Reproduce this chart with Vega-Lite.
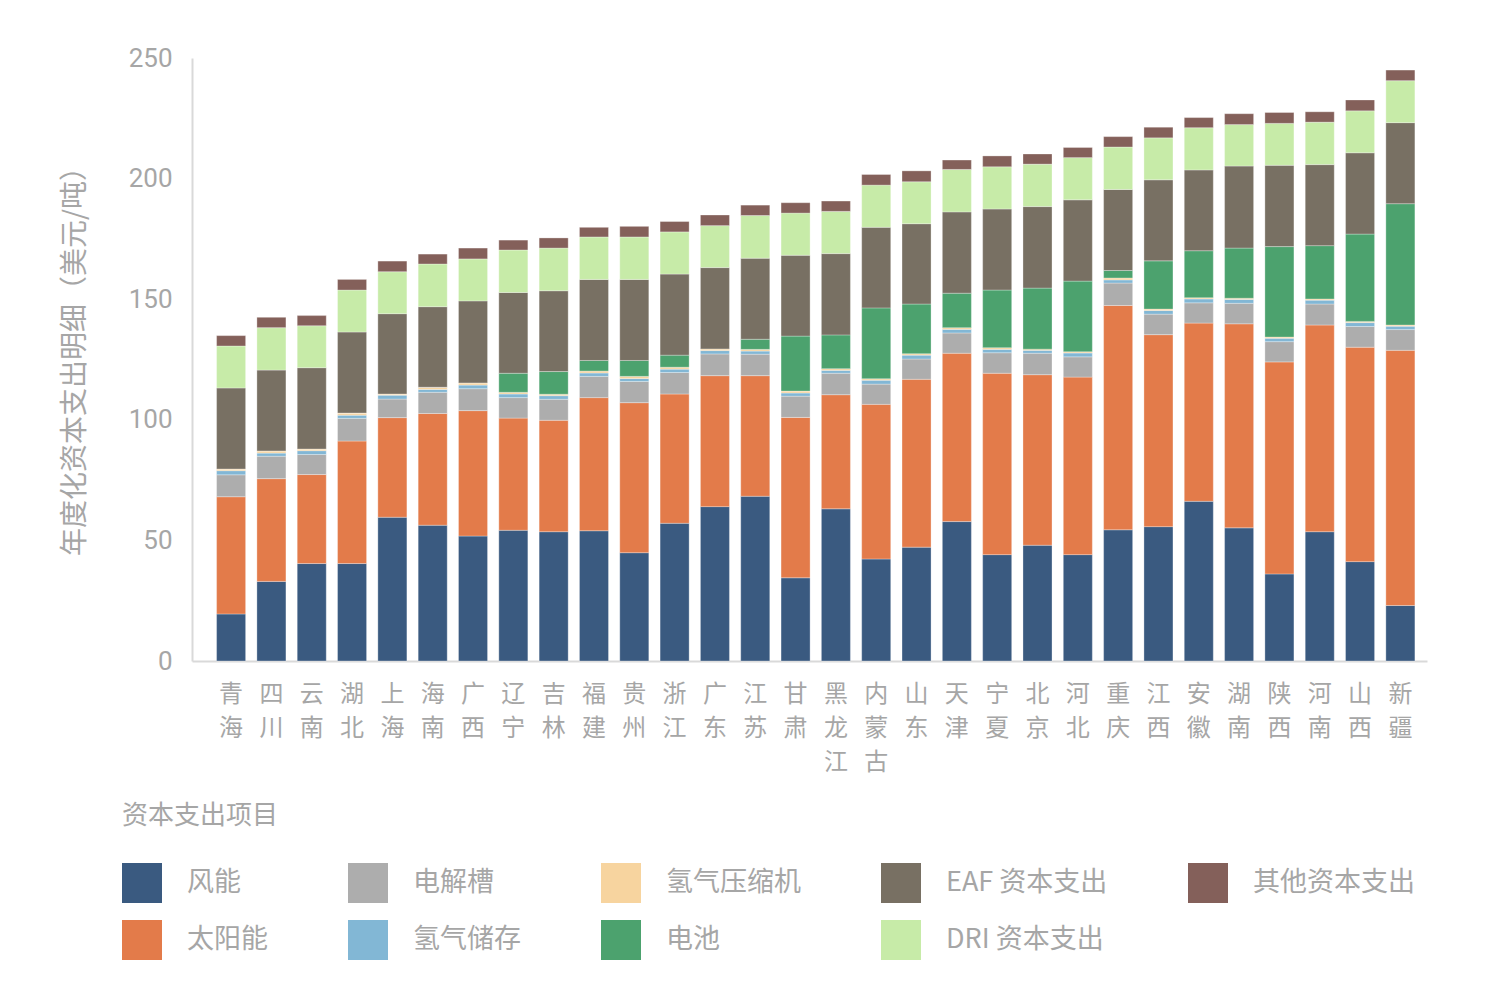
{
  "$schema": "https://vega.github.io/schema/vega-lite/v6.json",
  "autosize": {"type": "none"},
  "padding": {"left": 192, "top": 58, "right": 75, "bottom": 331},
  "width": 1235,
  "height": 603,
  "background": "white",
  "config": {"view": {"stroke": null}},
  "datasets": {
    "items": [
      {"项目": "风能", "k": 1},
      {"项目": "太阳能", "k": 2},
      {"项目": "电解槽", "k": 3},
      {"项目": "氢气储存", "k": 4},
      {"项目": "氢气压缩机", "k": 5},
      {"项目": "电池", "k": 6},
      {"项目": "EAF 资本支出", "k": 7},
      {"项目": "DRI 资本支出", "k": 8},
      {"项目": "其他资本支出", "k": 9}
    ],
    "capex": [
      {"省": "青海", "风能": 19.5, "太阳能": 48.6, "电解槽": 9.1, "氢气储存": 1.7, "氢气压缩机": 0.7, "电池": 0, "EAF 资本支出": 33.6, "DRI 资本支出": 17.4, "其他资本支出": 4.3},
      {"省": "四川", "风能": 33.0, "太阳能": 42.6, "电解槽": 9.3, "氢气储存": 1.3, "氢气压缩机": 0.9, "电池": 0, "EAF 资本支出": 33.5, "DRI 资本支出": 17.6, "其他资本支出": 4.3},
      {"省": "云南", "风能": 40.4, "太阳能": 36.9, "电解槽": 8.3, "氢气储存": 1.6, "氢气压缩机": 0.7, "电池": 0, "EAF 资本支出": 33.7, "DRI 资本支出": 17.4, "其他资本支出": 4.2},
      {"省": "湖北", "风能": 40.4, "太阳能": 50.8, "电解槽": 9.4, "氢气储存": 1.3, "氢气压缩机": 0.9, "电池": 0, "EAF 资本支出": 33.6, "DRI 资本支出": 17.4, "其他资本支出": 4.4},
      {"省": "上海", "风能": 59.6, "太阳能": 41.3, "电解槽": 7.7, "氢气储存": 1.6, "氢气压缩机": 0.5, "电池": 0, "EAF 资本支出": 33.3, "DRI 资本支出": 17.4, "其他资本支出": 4.4},
      {"省": "海南", "风能": 56.3, "太阳能": 46.3, "电解槽": 8.8, "氢气储存": 1.2, "氢气压缩机": 0.9, "电池": 0, "EAF 资本支出": 33.4, "DRI 资本支出": 17.7, "其他资本支出": 4.1},
      {"省": "广西", "风能": 51.8, "太阳能": 52.0, "电解槽": 9.1, "氢气储存": 1.5, "氢气压缩机": 0.9, "电池": 0, "EAF 资本支出": 34.0, "DRI 资本支出": 17.4, "其他资本支出": 4.5},
      {"省": "辽宁", "风能": 54.2, "太阳能": 46.5, "电解槽": 8.5, "氢气储存": 1.5, "氢气压缩机": 0.7, "电池": 7.9, "EAF 资本支出": 33.5, "DRI 资本支出": 17.6, "其他资本支出": 4.1},
      {"省": "吉林", "风能": 53.6, "太阳能": 46.2, "电解槽": 8.7, "氢气储存": 1.5, "氢气压缩机": 0.6, "电池": 9.4, "EAF 资本支出": 33.5, "DRI 资本支出": 17.7, "其他资本支出": 4.2},
      {"省": "福建", "风能": 54.0, "太阳能": 55.2, "电解槽": 8.8, "氢气储存": 1.4, "氢气压缩机": 0.8, "电池": 4.4, "EAF 资本支出": 33.6, "DRI 资本支出": 17.6, "其他资本支出": 4.0},
      {"省": "贵州", "风能": 44.9, "太阳能": 62.2, "电解槽": 8.8, "氢气储存": 1.2, "氢气压缩机": 0.9, "电池": 6.6, "EAF 资本支出": 33.6, "DRI 资本支出": 17.6, "其他资本支出": 4.4},
      {"省": "浙江", "风能": 57.1, "太阳能": 53.6, "电解槽": 8.9, "氢气储存": 1.4, "氢气压缩机": 0.8, "电池": 5.0, "EAF 资本支出": 33.6, "DRI 资本支出": 17.5, "其他资本支出": 4.3},
      {"省": "广东", "风能": 64.0, "太阳能": 54.3, "电解槽": 9.0, "氢气储存": 1.4, "氢气压缩机": 0.7, "电池": 0, "EAF 资本支出": 33.7, "DRI 资本支出": 17.4, "其他资本支出": 4.4},
      {"省": "江苏", "风能": 68.3, "太阳能": 50.0, "电解槽": 8.9, "氢气储存": 1.3, "氢气压缩机": 0.7, "电池": 4.2, "EAF 资本支出": 33.6, "DRI 资本支出": 17.7, "其他资本支出": 4.3},
      {"省": "甘肃", "风能": 34.5, "太阳能": 66.5, "电解槽": 8.8, "氢气储存": 1.3, "氢气压缩机": 0.8, "电池": 22.8, "EAF 资本支出": 33.5, "DRI 资本支出": 17.5, "其他资本支出": 4.3},
      {"省": "黑龙江", "风能": 63.1, "太阳能": 47.3, "电解槽": 8.9, "氢气储存": 1.2, "氢气压缩机": 0.7, "电池": 14.0, "EAF 资本支出": 33.7, "DRI 资本支出": 17.5, "其他资本支出": 4.3},
      {"省": "内蒙古", "风能": 42.3, "太阳能": 64.1, "电解槽": 8.4, "氢气储存": 1.6, "氢气压缩机": 0.6, "电池": 29.4, "EAF 资本支出": 33.4, "DRI 资本支出": 17.5, "其他资本支出": 4.4},
      {"省": "山东", "风能": 47.2, "太阳能": 69.6, "电解槽": 8.4, "氢气储存": 1.6, "氢气压缩机": 0.6, "电池": 20.6, "EAF 资本支出": 33.3, "DRI 资本支出": 17.4, "其他资本支出": 4.5},
      {"省": "天津", "风能": 57.8, "太阳能": 69.8, "电解槽": 8.4, "氢气储存": 1.5, "氢气压缩机": 0.7, "电池": 14.3, "EAF 资本支出": 33.7, "DRI 资本支出": 17.6, "其他资本支出": 3.9},
      {"省": "宁夏", "风能": 44.1, "太阳能": 75.2, "电解槽": 8.5, "氢气储存": 1.4, "氢气压缩机": 0.7, "电池": 23.9, "EAF 资本支出": 33.6, "DRI 资本支出": 17.5, "其他资本支出": 4.5},
      {"省": "北京", "风能": 48.0, "太阳能": 70.7, "电解槽": 8.9, "氢气储存": 1.2, "氢气压缩机": 0.5, "电池": 25.3, "EAF 资本支出": 33.8, "DRI 资本支出": 17.6, "其他资本支出": 4.2},
      {"省": "河北", "风能": 44.1, "太阳能": 73.6, "电解槽": 8.4, "氢气储存": 1.6, "氢气压缩机": 0.5, "电池": 29.3, "EAF 资本支出": 33.7, "DRI 资本支出": 17.5, "其他资本支出": 4.2},
      {"省": "重庆", "风能": 54.4, "太阳能": 93.0, "电解槽": 9.3, "氢气储存": 1.3, "氢气压缩机": 0.8, "电池": 3.1, "EAF 资本支出": 33.6, "DRI 资本支出": 17.6, "其他资本支出": 4.3},
      {"省": "江西", "风能": 55.7, "太阳能": 79.6, "电解槽": 8.5, "氢气储存": 1.5, "氢气压缩机": 0.6, "电池": 20.0, "EAF 资本支出": 33.6, "DRI 资本支出": 17.4, "其他资本支出": 4.4},
      {"省": "安徽", "风能": 66.2, "太阳能": 73.9, "电解槽": 8.4, "氢气储存": 1.6, "氢气压缩机": 0.5, "电池": 19.5, "EAF 资本支出": 33.5, "DRI 资本支出": 17.5, "其他资本支出": 4.2},
      {"省": "湖南", "风能": 55.2, "太阳能": 84.6, "电解槽": 8.5, "氢气储存": 1.6, "氢气压缩机": 0.5, "电池": 20.8, "EAF 资本支出": 34.0, "DRI 资本支出": 17.2, "其他资本支出": 4.5},
      {"省": "陕西", "风能": 36.1, "太阳能": 87.9, "电解槽": 8.4, "氢气储存": 1.4, "氢气压缩机": 0.5, "电池": 37.5, "EAF 资本支出": 33.7, "DRI 资本支出": 17.4, "其他资本支出": 4.5},
      {"省": "河南", "风能": 53.6, "太阳能": 85.7, "电解槽": 8.7, "氢气储存": 1.6, "氢气压缩机": 0.5, "电池": 22.1, "EAF 资本支出": 33.6, "DRI 资本支出": 17.6, "其他资本支出": 4.3},
      {"省": "山西", "风能": 41.2, "太阳能": 88.9, "电解槽": 8.6, "氢气储存": 1.6, "氢气压缩机": 0.5, "电池": 36.2, "EAF 资本支出": 33.7, "DRI 资本支出": 17.4, "其他资本支出": 4.5},
      {"省": "新疆", "风能": 23.0, "太阳能": 105.8, "电解槽": 8.6, "氢气储存": 1.4, "氢气压缩机": 0.5, "电池": 50.3, "EAF 资本支出": 33.6, "DRI 资本支出": 17.4, "其他资本支出": 4.4}
    ]
  },
  "data": {"name": "capex"},
  "transform": [
    {
      "fold": ["风能", "太阳能", "电解槽", "氢气储存", "氢气压缩机", "电池", "EAF 资本支出", "DRI 资本支出", "其他资本支出"],
      "as": ["项目", "值"]
    },
    {
      "lookup": "项目",
      "from": {"data": {"name": "items"}, "key": "项目", "fields": ["k"]}
    }
  ],
  "mark": {
    "type": "bar",
    "stroke": "#ffffff",
    "strokeWidth": 0.6,
    "strokeOpacity": 0.5
  },
  "encoding": {
    "x": {
      "field": "省",
      "type": "nominal",
      "sort": null,
      "scale": {"paddingInner": 0.28, "paddingOuter": 0.455, "align": 0.67},
      "axis": {
        "title": null,
        "labelAngle": 0,
        "labelExpr": "split(datum.label, '')",
        "labelFont": "Noto Sans CJK SC",
        "labelFontSize": 24,
        "labelLineHeight": 34,
        "labelColor": "#a6a6a6",
        "labelPadding": 21,
        "ticks": false,
        "domainColor": "#d9d9d9",
        "domainWidth": 2
      }
    },
    "y": {
      "field": "值",
      "type": "quantitative",
      "aggregate": "sum",
      "stack": "zero",
      "scale": {"domain": [0, 250], "nice": false},
      "axis": {
        "values": [0, 50, 100, 150, 200, 250],
        "grid": false,
        "ticks": false,
        "domainColor": "#d9d9d9",
        "domainWidth": 2,
        "labelFont": "Roboto",
        "labelFontSize": 26,
        "labelColor": "#a6a6a6",
        "labelPadding": 20,
        "title": "年度化资本支出明细（美元/吨）",
        "titleFont": "Noto Sans CJK SC",
        "titleFontSize": 28,
        "titleFontWeight": "normal",
        "titleColor": "#a6a6a6",
        "titleX": -117,
        "titleY": 296,
        "titleAlign": "center",
        "titleBaseline": "middle"
      }
    },
    "order": {"field": "k", "type": "quantitative", "sort": "ascending"},
    "color": {
      "field": "项目",
      "type": "nominal",
      "scale": {
        "domain": ["风能", "太阳能", "电解槽", "氢气储存", "氢气压缩机", "电池", "EAF 资本支出", "DRI 资本支出", "其他资本支出"],
        "range": ["#3a5a80", "#e37b4a", "#adadad", "#82b7d5", "#f7d49f", "#4ca26e", "#787063", "#c7eba8", "#84605a"]
      },
      "legend": {
        "title": "资本支出项目",
        "values": ["风能", "电解槽", "氢气压缩机", "EAF 资本支出", "其他资本支出", "太阳能", "氢气储存", "电池", "DRI 资本支出"],
        "orient": "none",
        "legendX": -70,
        "legendY": 745,
        "direction": "horizontal",
        "columns": 5,
        "gridAlign": "each",
        "columnPadding": 80,
        "rowPadding": 17,
        "symbolType": "square",
        "symbolSize": 1600,
        "symbolStrokeWidth": 0,
        "symbolOpacity": 1,
        "labelFont": "Noto Sans CJK SC",
        "labelFontSize": 27,
        "labelColor": "#a6a6a6",
        "labelOffset": 25,
        "labelLimit": 300,
        "titleFont": "Noto Sans CJK SC",
        "titleFontSize": 26,
        "titleFontWeight": "normal",
        "titleColor": "#a6a6a6",
        "titlePadding": 34
      }
    }
  }
}
